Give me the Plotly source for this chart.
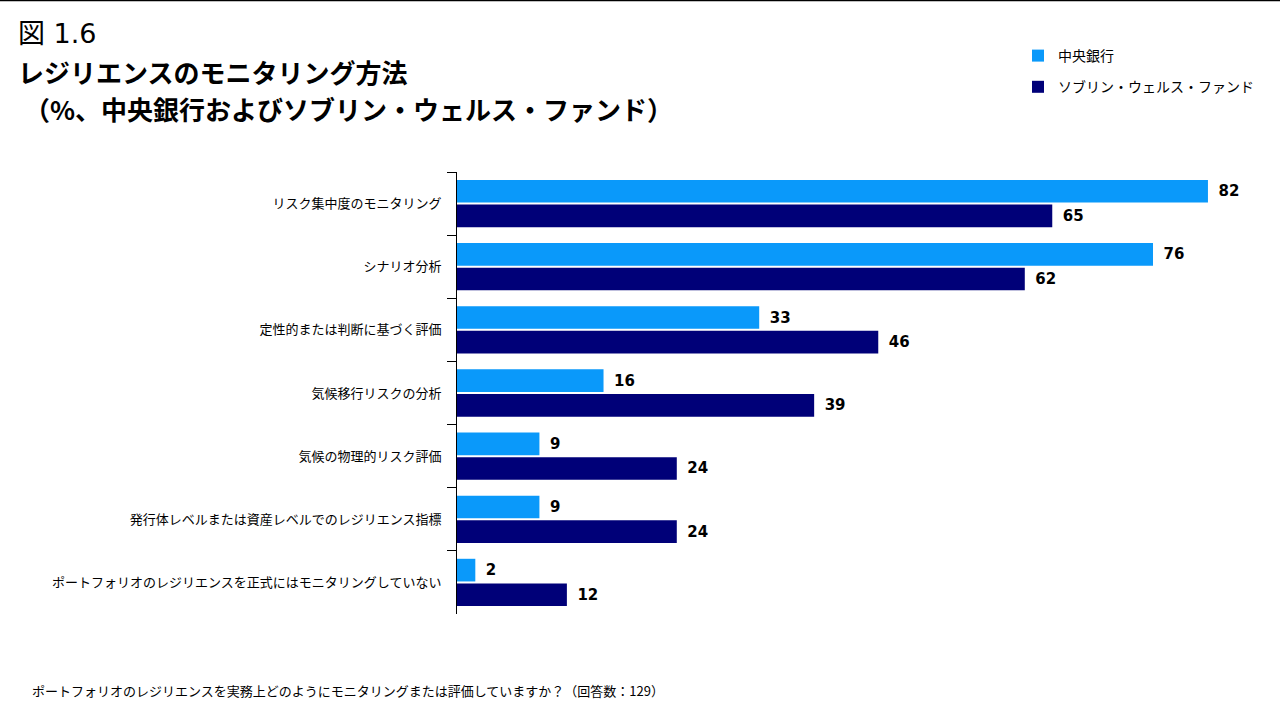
import plotly.graph_objects as go

categories = [
    "リスク集中度のモニタリング",
    "シナリオ分析",
    "定性的または判断に基づく評価",
    "気候移行リスクの分析",
    "気候の物理的リスク評価",
    "発行体レベルまたは資産レベルでのレジリエンス指標",
    "ポートフォリオのレジリエンスを正式にはモニタリングしていない",
]
central_banks = [82, 76, 33, 16, 9, 9, 2]
swf = [65, 62, 46, 39, 24, 24, 12]
series_names = ["中央銀行", "ソブリン・ウェルス・ファンド"]

W, H = 1280, 720
L, R, T, B = 457, 40, 172, 106
pw, ph = W - L - R, H - T - B

JP = "Noto Sans CJK JP"
LIGHT = "#0A99FA"
DARK = "#000078"

fig = go.Figure()
for i, (name, vals, col) in enumerate([(series_names[0], central_banks, LIGHT), (series_names[1], swf, DARK)]):
    fig.add_trace(go.Bar(
        y=categories, x=vals, orientation="h", name=name, legendgroup=f"g{i}",
        marker=dict(color=col, line=dict(width=0)),
        text=[f"\u2002<b>{v}</b>" for v in vals],
        textposition="outside",
        textfont=dict(family="DejaVu Sans", size=15, color="black"),
        cliponaxis=False,
    ))

def px2x(px):
    return (px - L) / pw

def py2y(py):
    return 1 - (py - T) / ph

annotations = [
    dict(text="図 1.6", x=px2x(16), y=py2y(33), xanchor="left", yanchor="middle",
         font=dict(family="DejaVu Sans, " + JP, size=27, color="black")),
    dict(text="<b>レジリエンスのモニタリング方法</b>", x=px2x(16), y=py2y(72), xanchor="left", yanchor="middle",
         font=dict(family=JP, size=26, color="black")),
    dict(text="<b>（%、中央銀行およびソブリン・ウェルス・ファンド）</b>", x=px2x(22), y=py2y(108), xanchor="left", yanchor="middle",
         font=dict(family=JP, size=26, color="black")),
    dict(text="ポートフォリオのレジリエンスを実務上どのようにモニタリングまたは評価していますか？（回答数：129）",
         x=px2x(30), y=py2y(690), xanchor="left", yanchor="middle",
         font=dict(family=JP, size=13, color="black")),
]
for a in annotations:
    a.update(xref="paper", yref="paper", showarrow=False)

fig.update_layout(
    width=W, height=H,
    margin=dict(l=L, r=R, t=T, b=B, autoexpand=False),
    paper_bgcolor="white", plot_bgcolor="white",
    barmode="group", bargap=0.22, bargroupgap=0.08,
    showlegend=True,
    legend=dict(
        xref="container", yref="container",
        x=1018 / W, y=1 - 40 / H, xanchor="left", yanchor="top",
        traceorder="grouped", tracegroupgap=10,
        font=dict(family=JP, size=14, color="black"),
        itemwidth=30,
        bgcolor="rgba(0,0,0,0)",
    ),
    xaxis=dict(range=[0, 85.5], visible=False, showgrid=False, zeroline=False),
    yaxis=dict(
        autorange="reversed",
        showline=True, linecolor="black", linewidth=1,
        ticks="outside", tickson="boundaries", ticklen=9, tickcolor="black", tickwidth=1,
        ticklabelstandoff=12,
        tickfont=dict(family=JP, size=13, color="black"),
        showgrid=False, zeroline=False,
    ),
    annotations=annotations,
    shapes=[dict(type="line", xref="paper", yref="paper", x0=px2x(0), x1=px2x(W),
                 y0=py2y(0.5), y1=py2y(0.5), line=dict(color="black", width=1.5))],
)

fig.write_html("out.html")
